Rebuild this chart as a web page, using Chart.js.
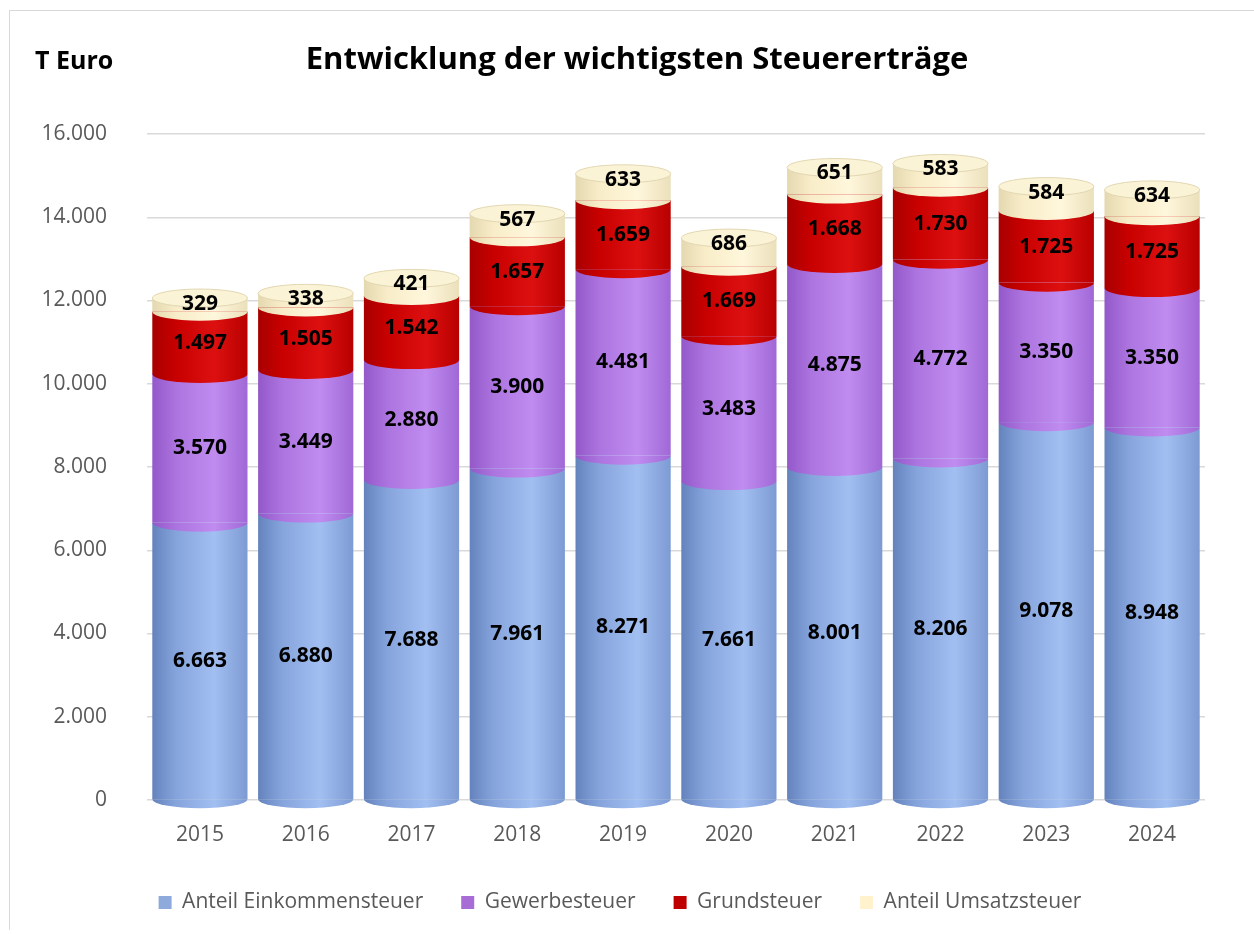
<!DOCTYPE html>
<html>
<head>
<meta charset="utf-8">
<script src="https://cdn.jsdelivr.net/npm/chart.js@4.4.1/dist/chart.umd.min.js"></script>
<style>
  html, body { margin: 0; padding: 0; background: #fff; }
  #wrap { position: relative; width: 1254px; height: 934px; }
  #frame { position: absolute; left: 9px; top: 10px; right: 0; bottom: 4px;
           border-left: 1.5px solid #d9d9d9; border-top: 1.5px solid #d9d9d9; pointer-events: none; }
</style>
</head>
<body>
<div id="wrap">
  <canvas id="steuerChart"></canvas>
  <div id="frame"></div>
</div>
<script>
// Werte in T Euro
var years = ["2015", "2016", "2017", "2018", "2019", "2020", "2021", "2022", "2023", "2024"];
var einkommen = [6663, 6880, 7688, 7961, 8271, 7661, 8001, 8206, 9078, 8948];
var gewerbe = [3570, 3449, 2880, 3900, 4481, 3483, 4875, 4772, 3350, 3350];
var grund = [1497, 1505, 1542, 1657, 1659, 1669, 1668, 1730, 1725, 1725];
var umsatz = [329, 338, 421, 567, 633, 686, 651, 583, 584, 634];
var seriesNames = ["Anteil Einkommensteuer", "Gewerbesteuer", "Grundsteuer", "Anteil Umsatzsteuer"];

var FONT = "'Open Sans', sans-serif";

function fmt(v) {
  return String(v).replace(/\B(?=(\d{3})+(?!\d))/g, '.');
}

// Farbverlauf fuer Zylinder-Optik: [links, mitte, hell, rechts]
var shades = [
  ["#6483bd", "#86a4dc", "#a2bff2", "#7d9bd3"],
  ["#9458c9", "#ac74df", "#c08cf0", "#a068d6"],
  ["#a80000", "#c80000", "#dd1010", "#b80000"],
  ["#e4d8b0", "#f8edc8", "#fff7dc", "#ebe0bb"]
];
var legendColors = ["#8eaadc", "#a86cd6", "#c00000", "#fff2cc"];

function cylGradient(chart, idx, sh) {
  var xs = chart.scales.x;
  var x = xs.getPixelForValue(idx);
  var w = xs.width / years.length * 0.9;
  var g = chart.ctx.createLinearGradient(x - w / 2, 0, x + w / 2, 0);
  g.addColorStop(0, sh[0]);
  g.addColorStop(0.25, sh[1]);
  g.addColorStop(0.65, sh[2]);
  g.addColorStop(1, sh[3]);
  return g;
}

function cyl(i) {
  return function (ctx) {
    var chart = ctx.chart;
    if (!chart.chartArea || !chart.scales.x) return legendColors[i];
    return cylGradient(chart, ctx.dataIndex, shades[i]);
  };
}

var cylinderPlugin = {
  id: 'cylinder',
  afterDatasetsDraw: function (chart) {
    var c = chart.ctx;
    var ry = 9;
    var metas = [0, 1, 2, 3].map(function (i) { return chart.getDatasetMeta(i); });
    // gewoelbte Unterkanten
    for (var d = 0; d < 4; d++) {
      metas[d].data.forEach(function (el, j) {
        var w = el.width;
        c.save();
        c.beginPath();
        c.ellipse(el.x, el.base, w / 2, ry, 0, 0, Math.PI);
        c.closePath();
        c.fillStyle = cylGradient(chart, j, shades[d]);
        c.fill();
        c.restore();
      });
    }
    // Deckel
    metas[3].data.forEach(function (el) {
      c.save();
      c.beginPath();
      c.ellipse(el.x, el.y, el.width / 2, ry, 0, 0, Math.PI * 2);
      c.fillStyle = "#fbf3d6";
      c.fill();
      c.strokeStyle = "#e2d7b2";
      c.lineWidth = 1;
      c.stroke();
      c.restore();
    });
    // Beschriftung
    c.save();
    c.font = "bold 21px " + FONT;
    c.fillStyle = "#000";
    c.textAlign = "center";
    c.textBaseline = "middle";
    for (var k = 0; k < 4; k++) {
      var vals = chart.data.datasets[k].data;
      metas[k].data.forEach(function (el, j) {
        var yy = (el.y + el.base) / 2;
        if (k === 3) yy = el.y + 6;
        c.fillText(fmt(vals[j]), el.x, yy);
      });
    }
    c.restore();
  }
};

var titlePlugin = {
  id: 'titles',
  afterDraw: function (chart) {
    var c = chart.ctx;
    c.save();
    c.fillStyle = "#000";
    c.textBaseline = "middle";
    c.font = "bold 25px " + FONT;
    c.textAlign = "left";
    c.fillText("T Euro", 35, 62);
    c.font = "bold 31px " + FONT;
    c.textAlign = "center";
    c.fillText("Entwicklung der wichtigsten Steuererträge", 637, 60);
    c.restore();
  }
};

var ctxS = document.getElementById("steuerChart").getContext('2d');
var steuerChart = new Chart(ctxS, {
  type: 'bar',
  data: {
    labels: years,
    datasets: [
      { label: seriesNames[0], data: einkommen, backgroundColor: cyl(0) },
      { label: seriesNames[1], data: gewerbe, backgroundColor: cyl(1) },
      { label: seriesNames[2], data: grund, backgroundColor: cyl(2) },
      { label: seriesNames[3], data: umsatz, backgroundColor: cyl(3) }
    ]
  },
  options: {
    responsive: true,
    maintainAspectRatio: false,
    animation: false,
    layout: { padding: { left: 35, right: 49, top: 134, bottom: 11 } },
    datasets: { bar: { barPercentage: 0.9, categoryPercentage: 1.0 } },
    scales: {
      x: {
        stacked: true,
        grid: { display: false },
        border: { display: false },
        ticks: { color: "#595959", font: { family: FONT, size: 21 }, padding: 14 },
        afterFit: function (s) { s.height = 54; }
      },
      y: {
        stacked: true,
        min: 0,
        max: 16000,
        grid: { color: "#d9d9d9", lineWidth: 1.5, drawTicks: false },
        border: { display: false },
        ticks: {
          stepSize: 2000,
          color: "#595959",
          font: { family: FONT, size: 21 },
          padding: 40,
          callback: function (v) { return fmt(v); }
        },
        afterFit: function (s) { s.width = 112; }
      }
    },
    plugins: {
      legend: {
        position: 'bottom',
        labels: {
          color: "#595959",
          font: { family: FONT, size: 21 },
          boxWidth: 13,
          boxHeight: 13,
          padding: 38,
          generateLabels: function (chart) {
            return seriesNames.map(function (n, i) {
              return { text: n, fillStyle: legendColors[i], strokeStyle: legendColors[i],
                       lineWidth: 0, datasetIndex: i, fontColor: "#595959" };
            });
          }
        }
      },
      tooltip: { enabled: false }
    }
  },
  plugins: [cylinderPlugin, titlePlugin]
});
</script>
</body>
</html>
